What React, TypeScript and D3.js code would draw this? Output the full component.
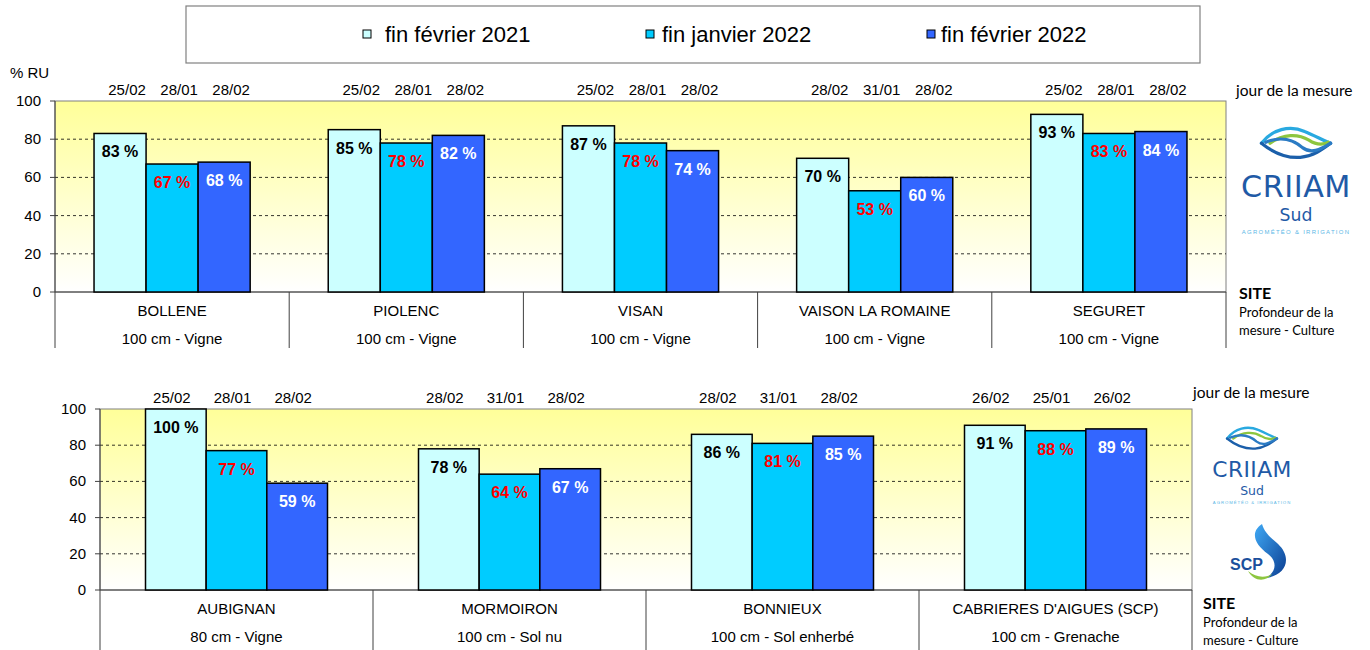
import React from "react";
import * as d3 from "d3";

// series (legend order)
const SERIES = ["fin février 2021", "fin janvier 2022", "fin février 2022"];
const COLORS = ["#CCFFFF", "#00CCFF", "#3366FF"];
const LABEL_COLORS = ["#000000", "#FF0000", "#FFFFFF"];

// top chart
const TOP_SITES = ["BOLLENE", "PIOLENC", "VISAN", "VAISON LA ROMAINE", "SEGURET"];
const TOP_DEPTH = ["100 cm - Vigne", "100 cm - Vigne", "100 cm - Vigne", "100 cm - Vigne", "100 cm - Vigne"];
const TOP_FEB21 = [83, 85, 87, 70, 93];
const TOP_JAN22 = [67, 78, 78, 53, 83];
const TOP_FEB22 = [68, 82, 74, 60, 84];
const TOP_DATES = [
  ["25/02", "28/01", "28/02"],
  ["25/02", "28/01", "28/02"],
  ["25/02", "28/01", "28/02"],
  ["28/02", "31/01", "28/02"],
  ["25/02", "28/01", "28/02"],
];

// bottom chart
const BOT_SITES = ["AUBIGNAN", "MORMOIRON", "BONNIEUX", "CABRIERES D'AIGUES (SCP)"];
const BOT_DEPTH = ["80 cm - Vigne", "100 cm - Sol nu", "100 cm - Sol enherbé", "100 cm - Grenache"];
const BOT_FEB21 = [100, 78, 86, 91];
const BOT_JAN22 = [77, 64, 81, 88];
const BOT_FEB22 = [59, 67, 85, 89];
const BOT_DATES = [
  ["25/02", "28/01", "28/02"],
  ["28/02", "31/01", "28/02"],
  ["28/02", "31/01", "28/02"],
  ["26/02", "25/01", "26/02"],
];

const Y_TICKS = [0, 20, 40, 60, 80, 100];

const ARIAL = "'Liberation Sans', Arial, sans-serif";
const CALIBRI = "Lato, 'Open Sans', sans-serif";

function Panel(props: any) {
  const { id, sites, depth, values, dates, x0, x1, yTop, yBot, dateDx, tableH } = props;

  const x = d3.scaleBand().domain(sites).range([x0, x1]).paddingInner(0).paddingOuter(0);
  const xs = d3.scaleBand().domain(SERIES).range([0, x.bandwidth()]).paddingInner(0).paddingOuter(0.75);
  const y = d3.scaleLinear().domain([0, 100]).range([yBot, yTop]);

  return (
    <g>
      <defs>
        <linearGradient id={"bg" + id} x1="0" y1="0" x2="0" y2="1">
          <stop offset="0%" stopColor="#FFFF99" />
          <stop offset="100%" stopColor="#FFFFFF" />
        </linearGradient>
      </defs>
      <rect x={x0} y={yTop} width={x1 - x0} height={yBot - yTop} fill={`url(#bg${id})`} stroke="#808080" strokeWidth={1} />
      {Y_TICKS.filter((t) => t > 0 && t < 100).map((t) => (
        <line key={t} x1={x0} x2={x1} y1={y(t)} y2={y(t)} stroke="#000" strokeWidth={0.8} strokeDasharray="3,3" />
      ))}
      {/* y axis */}
      <line x1={x0} x2={x0} y1={yTop} y2={yBot + tableH} stroke="#404040" strokeWidth={1} />
      {Y_TICKS.map((t) => (
        <g key={t}>
          <line x1={x0 - 5} x2={x0} y1={y(t)} y2={y(t)} stroke="#404040" />
          <text x={x0 - 14} y={y(t) + 5} textAnchor="end" fontSize={15} fontFamily={ARIAL} fill="#000">
            {t}
          </text>
        </g>
      ))}
      <line x1={x0} x2={x1} y1={yBot} y2={yBot} stroke="#404040" strokeWidth={1} />
      {/* bars */}
      {sites.map((s: string, i: number) =>
        SERIES.map((se, k) => {
          const v = values[k][i];
          const bx = (x(s) as number) + (xs(se) as number);
          const bw = xs.bandwidth();
          return (
            <g key={s + se}>
              <rect x={bx} y={y(v)} width={bw} height={yBot - y(v)} fill={COLORS[k]} stroke="#000" strokeWidth={1.5} />
              <text x={bx + bw / 2} y={y(v) + 24} textAnchor="middle" fontSize={16} fontWeight="bold" fontFamily={ARIAL} fill={LABEL_COLORS[k]}>
                {v} %
              </text>
              <text x={bx + bw / 2 + dateDx} y={yTop - 6} textAnchor="middle" fontSize={15} fontFamily={ARIAL} fill="#000">
                {dates[i][k]}
              </text>
            </g>
          );
        })
      )}
      {/* table below axis */}
      {sites.map((s: string, i: number) => (
        <g key={"t" + s}>
          <line x1={(x(s) as number) + x.bandwidth()} x2={(x(s) as number) + x.bandwidth()} y1={yBot} y2={yBot + tableH} stroke="#404040" />
          <text x={(x(s) as number) + x.bandwidth() / 2} y={yBot + 24} textAnchor="middle" fontSize={15} fontFamily={ARIAL} fill="#000">
            {s}
          </text>
          <text x={(x(s) as number) + x.bandwidth() / 2} y={yBot + 52} textAnchor="middle" fontSize={15} fontFamily={ARIAL} fill="#000">
            {depth[i]}
          </text>
        </g>
      ))}
    </g>
  );
}

function Criiam(props: any) {
  const { tx, ty, s } = props;
  return (
    <g transform={`translate(${tx},${ty}) scale(${s})`}>
      <g fill="none" strokeWidth={3} strokeLinecap="round">
        <path d="M18,16 C28,3 44,-1 58,5 C68,9 74,13 82,16" stroke="#29A9E0" />
        <path d="M26,16 C38,7 52,7 62,13 C68,17 74,18 80,15" stroke="#8DC63F" />
        <path d="M18,16 C28,24 40,30 54,29 C66,28 74,22 82,16" stroke="#1B5FAA" />
        <path d="M22,15 C36,9 48,13 56,20 C64,26 72,22 82,16" stroke="#2B7BC4" />
      </g>
      <text x={50} y={66} textAnchor="middle" fontSize={28} fontFamily="'DejaVu Sans', sans-serif" fill="#1F5AA6" letterSpacing={0.5}>
        CRIIAM
      </text>
      <text x={50} y={88} textAnchor="middle" fontSize={16} fontFamily="'DejaVu Sans', sans-serif" fill="#1F5AA6">
        Sud
      </text>
      <text x={50} y={100} textAnchor="middle" fontSize={5.5} fontFamily={ARIAL} fill="#5CB8E6" letterSpacing={1.2}>
        AGROMÉTÉO &amp; IRRIGATION
      </text>
    </g>
  );
}

function Scp(props: any) {
  const { tx, ty } = props;
  return (
    <g transform={`translate(${tx},${ty})`}>
      <defs>
        <linearGradient id="scpg" x1="0" y1="0" x2="1" y2="1">
          <stop offset="0%" stopColor="#3FA9F5" />
          <stop offset="100%" stopColor="#0B3D91" />
        </linearGradient>
      </defs>
      <path d="M26,0 C14,8 18,20 32,30 C42,38 40,48 30,54 C46,52 54,40 48,28 C44,18 30,14 26,0 Z" fill="url(#scpg)" />
      <path d="M12,47 C18,58 30,58 36,50 C30,54 20,54 12,47 Z" fill="#8DC63F" />
      <text x={-6} y={46} fontSize={16} fontWeight="bold" fontFamily={ARIAL} fill="#1B4F9C">
        SCP
      </text>
    </g>
  );
}

export default function App() {
  const markerX = [367, 650, 931];
  const textX = [385, 662, 941];
  return (
    <svg width={1370} height={650} style={{ position: "absolute", left: 0, top: 0, background: "#fff" }}>
      {/* legend */}
      <rect x={186} y={6} width={1014} height={57} fill="#fff" stroke="#808080" strokeWidth={1.2} />
      {SERIES.map((s, k) => (
        <g key={s}>
          <rect x={markerX[k] - 4} y={30} width={8} height={8} fill={COLORS[k]} stroke="#000" strokeWidth={1} />
          <text x={textX[k]} y={42} fontSize={22} fontFamily={ARIAL} fill="#000">
            {s}
          </text>
        </g>
      ))}

      <text x={10} y={78} fontSize={15} fontFamily={ARIAL} fill="#000">% RU</text>

      <Panel
        id="top"
        sites={TOP_SITES}
        depth={TOP_DEPTH}
        values={[TOP_FEB21, TOP_JAN22, TOP_FEB22]}
        dates={TOP_DATES}
        x0={55}
        x1={1226}
        yTop={101}
        yBot={292}
        dateDx={7}
        tableH={56}
      />
      <Panel
        id="bot"
        sites={BOT_SITES}
        depth={BOT_DEPTH}
        values={[BOT_FEB21, BOT_JAN22, BOT_FEB22]}
        dates={BOT_DATES}
        x0={100}
        x1={1192}
        yTop={409}
        yBot={590}
        dateDx={-4}
        tableH={60}
      />

      {/* right side notes */}
      <text x={1236} y={96} fontSize={15.5} fontFamily={CALIBRI} fill="#000">jour de la mesure</text>
      <text x={1239} y={299} fontSize={16} fontWeight="bold" fontFamily={CALIBRI} fill="#000">SITE</text>
      <text x={1239} y={317} fontSize={13} fontFamily={CALIBRI} fill="#000">Profondeur de la</text>
      <text x={1239} y={335} fontSize={13} fontFamily={CALIBRI} fill="#000">mesure - Culture</text>

      <text x={1193} y={398} fontSize={15.5} fontFamily={CALIBRI} fill="#000">jour de la mesure</text>
      <text x={1203} y={609} fontSize={16} fontWeight="bold" fontFamily={CALIBRI} fill="#000">SITE</text>
      <text x={1203} y={627} fontSize={13} fontFamily={CALIBRI} fill="#000">Profondeur de la</text>
      <text x={1203} y={645} fontSize={13} fontFamily={CALIBRI} fill="#000">mesure - Culture</text>

      <Criiam tx={1242} ty={126} s={1.08} />
      <Criiam tx={1213} ty={426} s={0.78} />
      <Scp tx={1236} ty={524} />
    </svg>
  );
}
